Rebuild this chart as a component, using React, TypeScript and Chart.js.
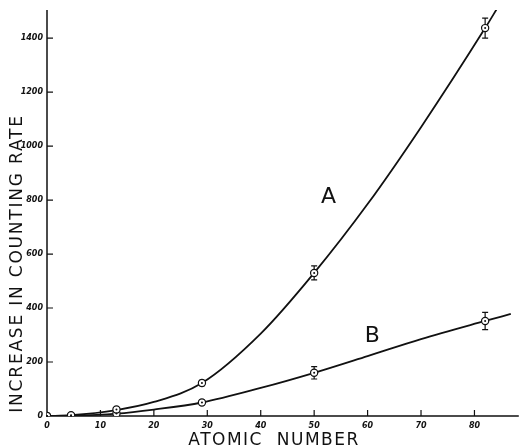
import React, { useEffect, useRef } from "react";
import { Chart, registerables } from "chart.js";

Chart.register(...registerables);

// Measured points (atomic number vs increase in counting rate)
const atomicNumbers = [0, 4.5, 13, 29, 50, 82];
const seriesA = [0, 3, 24, 122, 530, 1437];
const seriesB = [0, 1, 9, 50, 160, 352];
const errorsA = [0, 0, 6, 10, 26, 37];
const errorsB = [0, 0, 4, 8, 23, 32];
// Drawn smooth curves
const curveAX = [0, 4.5, 13, 20, 29, 40, 50, 60, 70, 82, 84.4];
const curveAY = [0, 3, 22, 52, 122, 305, 530, 785, 1070, 1437, 1515];
const curveBX = [0, 4.5, 13, 20, 29, 40, 50, 60, 70, 82, 86.8];
const curveBY = [0, 1, 9, 24, 50, 104, 160, 222, 285, 352, 378];
// Axis ticks
const xTicks = [0, 10, 20, 30, 40, 50, 60, 70, 80];
const yTicks = [0, 200, 400, 600, 800, 1000, 1200, 1400];
const xMax = 88.3;
const yMax = 1504;
// Curve labels placed in data coordinates
const curveLabels = ["A", "B"];
const curveLabelX = [52.7, 60.9];
const curveLabelY = [811, 296];
const xTitle = "ATOMIC  NUMBER";
const yTitle = "INCREASE IN COUNTING RATE";

const INK = "#111";

const toPts = (xs: number[], ys: number[]) => xs.map((x, i) => ({ x, y: ys[i] }));

const overlay = {
  id: "overlay",
  beforeDatasetsDraw(chart: any) {
    const ctx = chart.ctx;
    const xs = chart.scales.x;
    const ys = chart.scales.y;
    ctx.save();
    ctx.strokeStyle = INK;
    ctx.lineWidth = 1.5;
    // axes
    ctx.beginPath();
    ctx.moveTo(xs.getPixelForValue(0), ys.getPixelForValue(0));
    ctx.lineTo(xs.getPixelForValue(xMax), ys.getPixelForValue(0));
    ctx.moveTo(xs.getPixelForValue(0), ys.getPixelForValue(0));
    ctx.lineTo(xs.getPixelForValue(0), ys.getPixelForValue(yMax));
    ctx.stroke();
    // ticks (inside)
    ctx.lineWidth = 1.2;
    ctx.beginPath();
    xTicks.forEach((t) => {
      if (t === 0) return;
      const px = xs.getPixelForValue(t);
      const py = ys.getPixelForValue(0);
      ctx.moveTo(px, py);
      ctx.lineTo(px, py - 6);
    });
    yTicks.forEach((t) => {
      if (t === 0) return;
      const px = xs.getPixelForValue(0);
      const py = ys.getPixelForValue(t);
      ctx.moveTo(px, py);
      ctx.lineTo(px + 6, py);
    });
    ctx.stroke();
    // tick labels
    ctx.fillStyle = INK;
    ctx.font = "italic bold 8px 'DejaVu Sans'";
    ctx.textAlign = "center";
    ctx.textBaseline = "top";
    xTicks.forEach((t) => {
      ctx.fillText(String(t), xs.getPixelForValue(t), ys.getPixelForValue(0) + 6);
    });
    ctx.textAlign = "right";
    ctx.textBaseline = "middle";
    yTicks.forEach((t) => {
      ctx.fillText(String(t), xs.getPixelForValue(0) - 4, ys.getPixelForValue(t));
    });
    // axis titles
    ctx.font = "17px 'DejaVu Sans'";
    (ctx as any).letterSpacing = "1.5px";
    ctx.textAlign = "center";
    ctx.textBaseline = "alphabetic";
    ctx.fillText(xTitle, xs.getPixelForValue(42.5), 445);
    ctx.save();
    ctx.translate(22, (ys.getPixelForValue(0) + ys.getPixelForValue(1130)) / 2);
    ctx.rotate(-Math.PI / 2);
    (ctx as any).letterSpacing = "1.8px";
    ctx.fillText(yTitle, 0, 0);
    ctx.restore();
    (ctx as any).letterSpacing = "0px";
    // curve labels
    ctx.font = "22px 'DejaVu Sans'";
    ctx.textAlign = "center";
    ctx.textBaseline = "middle";
    curveLabels.forEach((l, i) => {
      ctx.fillText(l, xs.getPixelForValue(curveLabelX[i]), ys.getPixelForValue(curveLabelY[i]));
    });
    // error bars
    ctx.lineWidth = 1.2;
    const drawErr = (vals: number[], errs: number[]) => {
      atomicNumbers.forEach((z, i) => {
        if (!errs[i]) return;
        const px = xs.getPixelForValue(z);
        const top = ys.getPixelForValue(vals[i] + errs[i]);
        const bot = ys.getPixelForValue(vals[i] - errs[i]);
        ctx.beginPath();
        ctx.moveTo(px, top);
        ctx.lineTo(px, bot);
        ctx.moveTo(px - 3, top);
        ctx.lineTo(px + 3, top);
        ctx.moveTo(px - 3, bot);
        ctx.lineTo(px + 3, bot);
        ctx.stroke();
      });
    };
    drawErr(seriesA, errorsA);
    drawErr(seriesB, errorsB);
    ctx.restore();
  },
  afterDatasetsDraw(chart: any) {
    const ctx = chart.ctx;
    const xs = chart.scales.x;
    const ys = chart.scales.y;
    ctx.save();
    ctx.fillStyle = INK;
    [seriesA, seriesB].forEach((vals) => {
      atomicNumbers.forEach((z, i) => {
        ctx.beginPath();
        ctx.arc(xs.getPixelForValue(z), ys.getPixelForValue(vals[i]), 1, 0, Math.PI * 2);
        ctx.fill();
      });
    });
    ctx.restore();
  },
};

export default function App() {
  const ref = useRef<HTMLCanvasElement>(null);
  useEffect(() => {
    document.body.style.margin = "0";
    document.body.style.background = "#fff";
    const lineDs = (xs: number[], ys: number[]) => ({
      data: toPts(xs, ys),
      borderColor: INK,
      borderWidth: 1.8,
      pointRadius: 0,
      cubicInterpolationMode: "monotone" as const,
      fill: false,
      order: 2,
    });
    const markDs = (vals: number[]) => ({
      data: toPts(atomicNumbers, vals),
      showLine: false,
      pointRadius: 3.6,
      pointBorderWidth: 1.2,
      pointBorderColor: INK,
      pointBackgroundColor: "#fff",
      order: 1,
    });
    const chart = new Chart(ref.current!, {
      type: "line",
      data: {
        datasets: [lineDs(curveAX, curveAY), lineDs(curveBX, curveBY), markDs(seriesA), markDs(seriesB)] as any,
      },
      options: {
        animation: false,
        responsive: false,
        devicePixelRatio: 1,
        layout: { padding: { left: 47, right: 0, top: 10, bottom: 31 } },
        plugins: { legend: { display: false }, tooltip: { enabled: false } },
        scales: {
          x: { type: "linear", min: 0, max: xMax, display: false },
          y: { type: "linear", min: 0, max: yMax, display: false },
        },
      },
      plugins: [overlay],
    });
    return () => chart.destroy();
  }, []);
  return <canvas ref={ref} width={524} height={447} style={{ display: "block" }} />;
}
